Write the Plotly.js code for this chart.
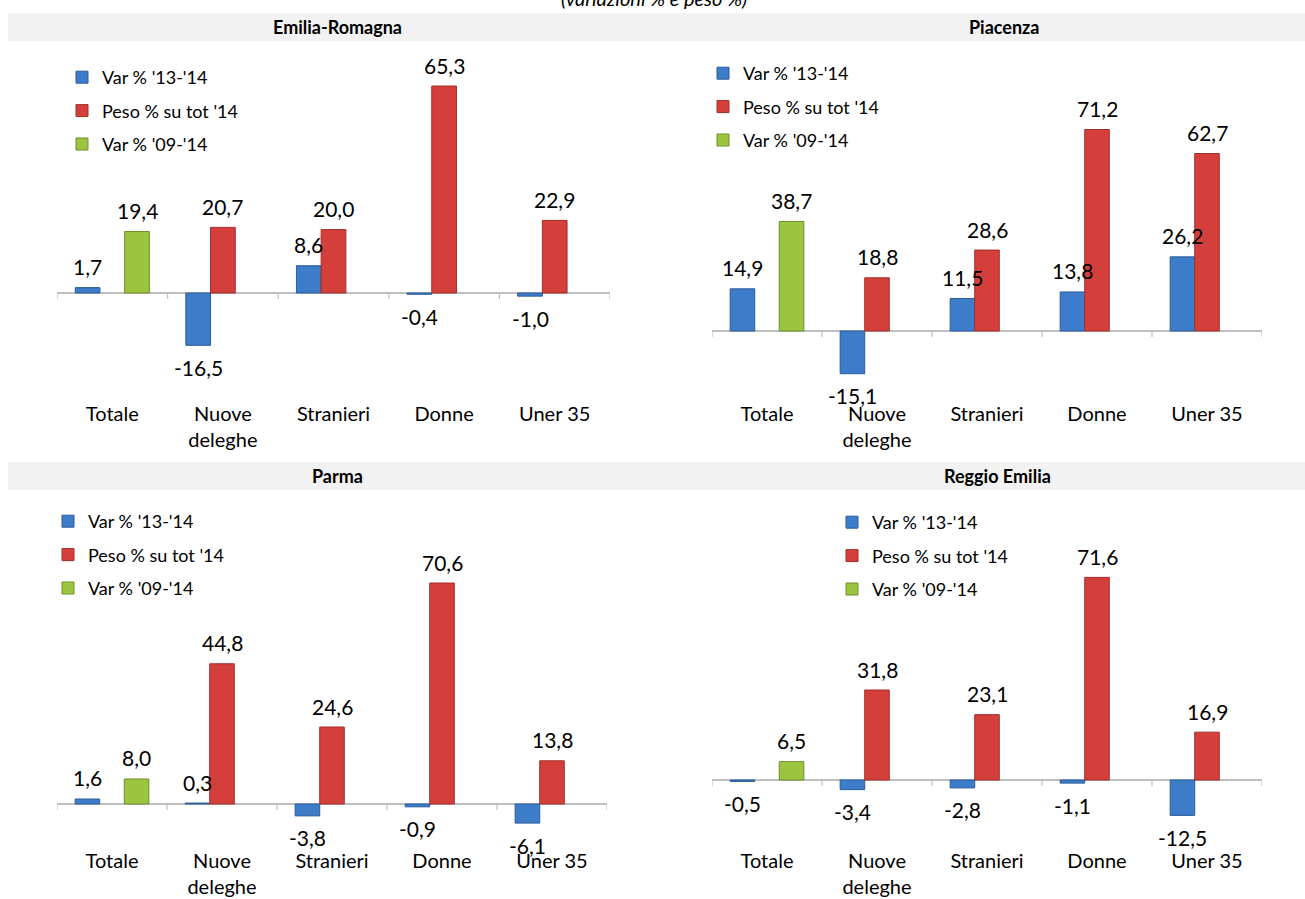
<!DOCTYPE html>
<html>
<head>
<meta charset="utf-8">
<script src="https://cdn.plot.ly/plotly-3.0.1.min.js"></script>
<style>
  html, body { margin: 0; padding: 0; background: #ffffff; }
  #chart { width: 1305px; height: 899px; }
</style>
</head>
<body>
<div id="chart"></div>
<script>
// Categories and tick labels shared by the four panels
const categories = ['Totale', 'Nuove deleghe', 'Stranieri', 'Donne', 'Uner 35'];
const tickLabels = ['Totale', 'Nuove<br>deleghe', 'Stranieri', 'Donne', 'Uner 35'];
const seriesNames = ["Var % '13-'14", "Peso % su tot '14", "Var % '09-'14"];
const regionNames = ['Emilia-Romagna', 'Piacenza', 'Parma', 'Reggio Emilia'];
const chartSubtitle = '(variazioni % e peso %)';

// Emilia-Romagna
const emiliaVar1314 = [1.7, -16.5, 8.6, -0.4, -1.0];
const emiliaPeso14  = [null, 20.7, 20.0, 65.3, 22.9];
const emiliaVar0914 = [19.4, null, null, null, null];

// Piacenza
const piacenzaVar1314 = [14.9, -15.1, 11.5, 13.8, 26.2];
const piacenzaPeso14  = [null, 18.8, 28.6, 71.2, 62.7];
const piacenzaVar0914 = [38.7, null, null, null, null];

// Parma
const parmaVar1314 = [1.6, 0.3, -3.8, -0.9, -6.1];
const parmaPeso14  = [null, 44.8, 24.6, 70.6, 13.8];
const parmaVar0914 = [8.0, null, null, null, null];

// Reggio Emilia
const reggioVar1314 = [-0.5, -3.4, -2.8, -1.1, -12.5];
const reggioPeso14  = [null, 31.8, 23.1, 71.6, 16.9];
const reggioVar0914 = [6.5, null, null, null, null];

const panelSeries = [
  [emiliaVar1314, emiliaPeso14, emiliaVar0914],
  [piacenzaVar1314, piacenzaPeso14, piacenzaVar0914],
  [parmaVar1314, parmaPeso14, parmaVar0914],
  [reggioVar1314, reggioPeso14, reggioVar0914]
];

// Styling
const W = 1305, H = 899;
const FONT = 'Lato, "Open Sans", sans-serif';
const fillColors = ['#3C7CC9', '#D53F3B', '#9CC43E'];
const edgeColors = ['#2B5C9A', '#A02E2B', '#6F8F2A'];
const BARGAP = 0.33;

// Pixel frame of each panel: axis extent, zero line, scale, label row, legend, header
const frames = [
  { x0: 57,  x1: 610,  zero: 293, ppu: 3.17, top: 60,  labelRow: 400, legX: 62,  legY: 59,  headX: 337,  headY: 27 },
  { x0: 712, x1: 1262, zero: 331, ppu: 2.83, top: 60,  labelRow: 400, legX: 703, legY: 55,  headX: 1004, headY: 27 },
  { x0: 57,  x1: 607,  zero: 804, ppu: 3.13, top: 510, labelRow: 847, legX: 48,  legY: 503, headX: 337,  headY: 476 },
  { x0: 712, x1: 1262, zero: 780, ppu: 2.83, top: 510, labelRow: 847, legX: 832, legY: 504, headX: 997,  headY: 476 }
];

const px = v => v / W;
const py = v => 1 - v / H;

const data = [];
const layout = {
  width: W, height: H,
  margin: { l: 0, r: 0, t: 0, b: 0 },
  paper_bgcolor: '#ffffff',
  plot_bgcolor: 'rgba(0,0,0,0)',
  font: { family: FONT, color: '#000000', size: 18 },
  separators: ',.',
  barmode: 'group',
  bargap: BARGAP,
  bargroupgap: 0,
  showlegend: true,
  annotations: [],
  shapes: []
};

// Header bands behind the panel titles
[13, 462].forEach(function (yTop) {
  layout.shapes.push({
    type: 'rect', xref: 'paper', yref: 'paper', layer: 'below',
    x0: px(8), x1: 1, y0: py(yTop + 28), y1: py(yTop),
    fillcolor: '#F2F2F2', line: { width: 0 }
  });
});

// Subtitle at the very top
layout.annotations.push({
  xref: 'paper', yref: 'paper', x: px(654), y: 1, yanchor: 'middle', yshift: 2,
  text: chartSubtitle, showarrow: false,
  font: { family: FONT, size: 20, style: 'italic', color: '#000000' }
});

const barUnit = (1 - BARGAP) / 3;

frames.forEach(function (f, p) {
  const n = p + 1;
  const xa = n === 1 ? 'x' : 'x' + n;
  const ya = n === 1 ? 'y' : 'y' + n;
  const xKey = n === 1 ? 'xaxis' : 'xaxis' + n;
  const yKey = n === 1 ? 'yaxis' : 'yaxis' + n;
  const legKey = n === 1 ? 'legend' : 'legend' + n;

  const yMax = (f.zero - f.top) / f.ppu;
  const yMin = -(f.labelRow - f.zero) / f.ppu;

  layout[xKey] = {
    domain: [px(f.x0), px(f.x1)],
    anchor: ya,
    type: 'category',
    categoryorder: 'array',
    categoryarray: categories,
    tickmode: 'array',
    tickvals: categories,
    ticktext: tickLabels,
    range: [-0.5, categories.length - 0.5],
    showline: false, showgrid: false, zeroline: false,
    ticks: '',
    tickfont: { family: FONT, size: 20, color: '#000000' },
    fixedrange: true
  };
  layout[yKey] = {
    domain: [py(f.labelRow), py(f.top)],
    anchor: xa,
    range: [yMin, yMax],
    showgrid: false, showline: false, showticklabels: false, ticks: '',
    zeroline: true, zerolinecolor: '#BFBFBF', zerolinewidth: 1.5,
    fixedrange: true
  };

  // Tick marks hanging below the zero line at each category boundary
  for (let b = 0; b <= categories.length; b++) {
    layout.shapes.push({
      type: 'line', xref: xa, yref: ya,
      ysizemode: 'pixel', yanchor: 0,
      x0: b - 0.5, x1: b - 0.5, y0: 0, y1: -6,
      line: { color: '#BFBFBF', width: 1.2 }
    });
  }

  layout[legKey] = {
    x: px(f.legX), y: py(f.legY), xanchor: 'left', yanchor: 'top',
    bgcolor: 'rgba(0,0,0,0)', borderwidth: 0,
    font: { family: FONT, size: 18, color: '#000000' },
    traceorder: 'grouped', tracegroupgap: 7,
    itemclick: false, itemdoubleclick: false
  };

  // Panel header
  layout.annotations.push({
    xref: 'paper', yref: 'paper', x: px(f.headX), y: py(f.headY),
    xanchor: 'center', yanchor: 'middle',
    text: '<b>' + regionNames[p] + '</b>', showarrow: false,
    font: { family: FONT, size: 18, color: '#000000' }
  });

  panelSeries[p].forEach(function (vals, s) {
    data.push({
      type: 'bar',
      name: seriesNames[s],
      x: categories,
      y: vals,
      xaxis: xa, yaxis: ya,
      legend: legKey,
      legendgroup: 'p' + n + 's' + s,
      marker: { color: fillColors[s], line: { color: edgeColors[s], width: 1 } },
      hoverinfo: 'x+y+name',
      cliponaxis: false
    });

    // Value labels above (or below) each bar end
    vals.forEach(function (v, i) {
      if (v === null) return;
      layout.annotations.push({
        xref: xa, yref: ya,
        x: i + (s - 1) * barUnit, y: v,
        xanchor: 'center', yanchor: 'middle',
        yshift: v >= 0 ? 21 : -22,
        text: v.toFixed(1).replace('.', ','),
        showarrow: false,
        font: { family: FONT, size: 21, color: '#000000' }
      });
    });
  });
});

Plotly.newPlot('chart', data, layout, { displayModeBar: false, staticPlot: true });
</script>
</body>
</html>
